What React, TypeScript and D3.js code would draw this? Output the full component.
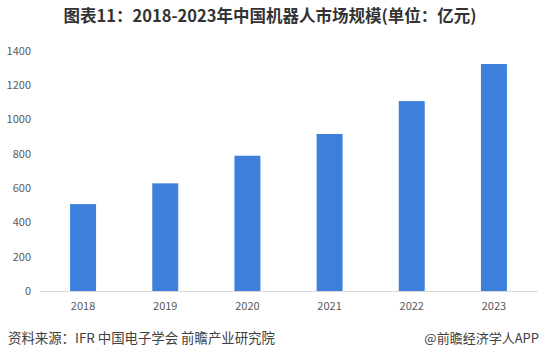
import React, { useEffect, useRef } from "react";
import * as d3 from "d3";

const years = ["2018", "2019", "2020", "2021", "2022", "2023"];
const marketSize = [507, 628, 789, 916, 1108, 1324];
const yTicks = [0, 200, 400, 600, 800, 1000, 1200, 1400];

const title = "图表11：2018-2023年中国机器人市场规模(单位：亿元)";
const source = "资料来源：IFR 中国电子学会 前瞻产业研究院";
const credit = "@前瞻经济学人APP";

const width = 540,
  height = 359;
const font = '"Noto Sans CJK SC", "Noto Sans", sans-serif';

const App = () => {
  const svgRef = useRef<SVGSVGElement>(null);

  useEffect(() => {
    document.body.style.margin = "0";
    const svg = d3.select(svgRef.current);
    svg.selectAll("*").remove();

    svg.append("rect").attr("width", width).attr("height", height).attr("fill", "#fff");

    const x = d3
      .scaleBand()
      .domain(years)
      .range([42, 535])
      .paddingInner(0.684)
      .paddingOuter(0.342);
    const y = d3.scaleLinear().domain([0, 1400]).range([291, 51]);

    // title
    svg
      .append("text")
      .attr("x", 270)
      .attr("y", 22)
      .attr("text-anchor", "middle")
      .attr("font-family", font)
      .attr("font-weight", "bold")
      .attr("font-size", 16.5)
      .attr("fill", "#333")
      .text(title);

    // y labels
    svg
      .append("g")
      .selectAll("text")
      .data(yTicks)
      .enter()
      .append("text")
      .attr("x", 31)
      .attr("y", (d) => y(d))
      .attr("dy", "0.35em")
      .attr("text-anchor", "end")
      .attr("font-family", font)
      .attr("font-size", 11)
      .attr("fill", "#595959")
      .text((d) => d);

    // bars
    svg
      .append("g")
      .selectAll("rect")
      .data(marketSize)
      .enter()
      .append("rect")
      .attr("x", (d, i) => x(years[i])!)
      .attr("y", (d) => y(d))
      .attr("width", x.bandwidth())
      .attr("height", (d) => y(0) - y(d))
      .attr("fill", "#3d80dc");

    // baseline
    svg
      .append("line")
      .attr("x1", 40)
      .attr("x2", 538)
      .attr("y1", y(0) + 0.5)
      .attr("y2", y(0) + 0.5)
      .attr("stroke", "#d9d9d9");

    // x labels
    svg
      .append("g")
      .selectAll("text")
      .data(years)
      .enter()
      .append("text")
      .attr("x", (d) => x(d)! + x.bandwidth() / 2)
      .attr("y", 306)
      .attr("dy", "0.35em")
      .attr("text-anchor", "middle")
      .attr("font-family", font)
      .attr("font-size", 11)
      .attr("fill", "#595959")
      .text((d) => d);

    // footer
    svg
      .append("text")
      .attr("x", 8)
      .attr("y", 338)
      .attr("dy", "0.35em")
      .attr("font-family", font)
      .attr("font-size", 13.4)
      .attr("fill", "#404040")
      .text(source);
    svg
      .append("text")
      .attr("x", 539)
      .attr("y", 338)
      .attr("dy", "0.35em")
      .attr("text-anchor", "end")
      .attr("font-family", font)
      .attr("font-size", 13)
      .attr("fill", "#404040")
      .text(credit);
  }, []);

  return <svg ref={svgRef} width={width} height={height} style={{ display: "block" }}></svg>;
};

export default App;
